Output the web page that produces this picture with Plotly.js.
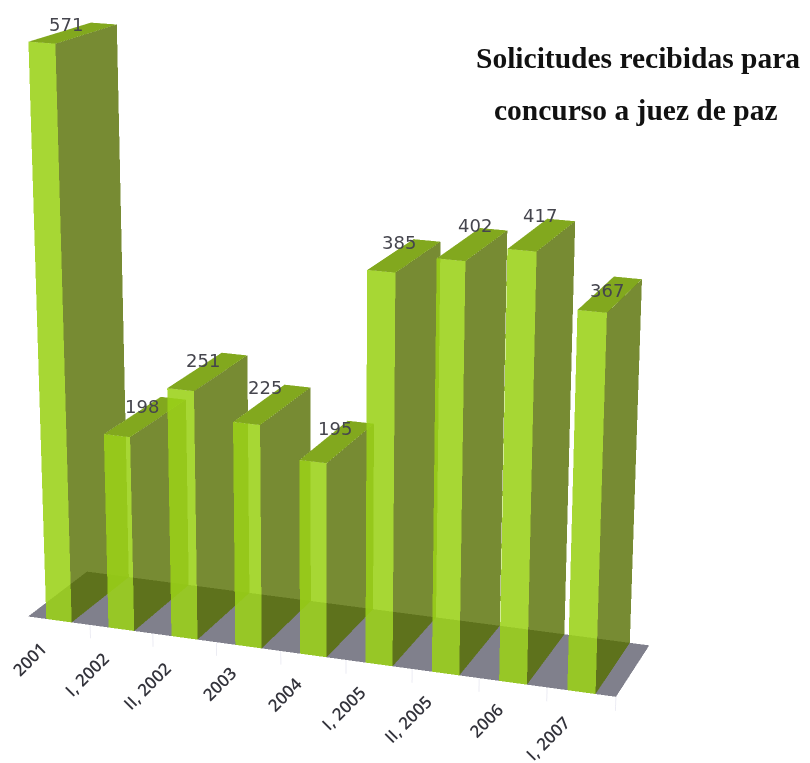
<!DOCTYPE html>
<html><head><meta charset="utf-8">
<script src="https://cdn.plot.ly/plotly-3.0.1.min.js"></script>
<style>html,body{margin:0;padding:0;background:#fff;overflow:hidden;width:810px;height:763px}
#wrap{position:absolute;left:0;top:0;width:810px;height:763px;overflow:hidden}
#gd{position:absolute;left:-391px;top:-741px;width:2048px;height:2048px}</style>
</head><body><div id="wrap"><div id="gd"></div></div>
<script>
const categories = ["2001","I, 2002","II, 2002","2003","2004","I, 2005","II, 2005","2006","I, 2007"];
const values = [571,198,251,225,195,385,402,417,367];
const valueLabelDx = [-8,-4,-5,-8,-3,-6,2,-2,-4];
const valueLabelDy = [8,10,11,17,13,13,19,19,4];
const tickLabelDx = [-29,-35,-37,-29,-29,-36,-38,-27,-34];
const tickLabelDy = [-38,-45,-48,-37,-39,-44,-46,-38,-46];
const barHalf = 0.205;
const traces = [];
function quadMesh(pts,color,opacity){
  traces.push({type:'mesh3d',x:pts.map(p=>p[0]),y:pts.map(p=>p[1]),z:pts.map(p=>p[2]),
    i:[0,0],j:[1,2],k:[2,3],color:color,opacity:opacity,flatshading:true,hoverinfo:'skip',showscale:false,
    lighting:{ambient:1,diffuse:0,specular:0,roughness:1,fresnel:0},contour:{show:false}});
}
quadMesh([[-0.5,0,0],[8.5,0,0],[8.5,1,0],[-0.5,1,0]],'#80808c',0.999);
values.forEach((v,c)=>{
  const a=c-barHalf,b=c+barHalf;
  quadMesh([[b,0,0],[b,1,0],[b,1,v],[b,0,v]],'#556e00',0.8);
  quadMesh([[a,0,v],[b,0,v],[b,1,v],[a,1,v]],'#82a81e',1);
  quadMesh([[a,0,0],[b,0,0],[b,0,v],[a,0,v]],'#9ad118',0.88);
});
const tx=[],ty=[],tz=[];
categories.forEach((t,c)=>{tx.push(c+0.5,c+0.5,null);ty.push(0,0,null);tz.push(0,-14,null);});
traces.push({type:'scatter3d',mode:'lines',x:tx,y:ty,z:tz,line:{color:'#e6e6f0',width:1.5},hoverinfo:'skip',showlegend:false});
const hidden={visible:false,showgrid:false,showline:false,zeroline:false,showticklabels:false,showbackground:false,showspikes:false,ticks:'',title:{text:''}};
const ann=[];
values.forEach((v,c)=>ann.push({x:c,y:0.5,z:v,text:String(v),showarrow:false,yshift:valueLabelDy[c],xshift:valueLabelDx[c],
  font:{family:'DejaVu Sans',size:18,color:'#45454d'}}));
categories.forEach((t,c)=>ann.push({x:c,y:0,z:0,text:t,showarrow:false,textangle:-45,xshift:tickLabelDx[c],yshift:tickLabelDy[c],
  font:{family:'Open Sans',size:17,color:'#33333b',weight:600}}));
const titleFont={family:'Liberation Serif',size:29.5,color:'#111',weight:700};
const layout={width:2048,height:2048,margin:{l:0,r:0,t:0,b:0},paper_bgcolor:'rgba(0,0,0,0)',showlegend:false,hovermode:false,dragmode:false,
  scene:{domain:{x:[0,1],y:[0,1]},
    xaxis:Object.assign({range:[-0.5,8.5]},hidden),
    yaxis:Object.assign({range:[0,1]},hidden),
    zaxis:Object.assign({range:[-20,650]},hidden),
    aspectmode:'manual',aspectratio:{x:1,y:0.2119,z:1.1207},
    camera:{projection:{type:'perspective'},
      eye:{x:1.3617,y:-3.5405,z:1.0661},center:{x:0.4425,y:0.1478,z:0.0681},up:{x:-0.093,y:0.2387,z:0.9667}},
    annotations:ann},
  annotations:[
   {xref:'paper',yref:'paper',x:(638+391)/2048,y:1-(58+741)/2048,xanchor:'center',yanchor:'middle',showarrow:false,text:'Solicitudes recibidas para',font:titleFont},
   {xref:'paper',yref:'paper',x:(636+391)/2048,y:1-(110+741)/2048,xanchor:'center',yanchor:'middle',showarrow:false,text:'concurso a juez de paz',font:titleFont}]
};
Plotly.newPlot('gd',traces,layout,{displayModeBar:false});
</script></body></html>
